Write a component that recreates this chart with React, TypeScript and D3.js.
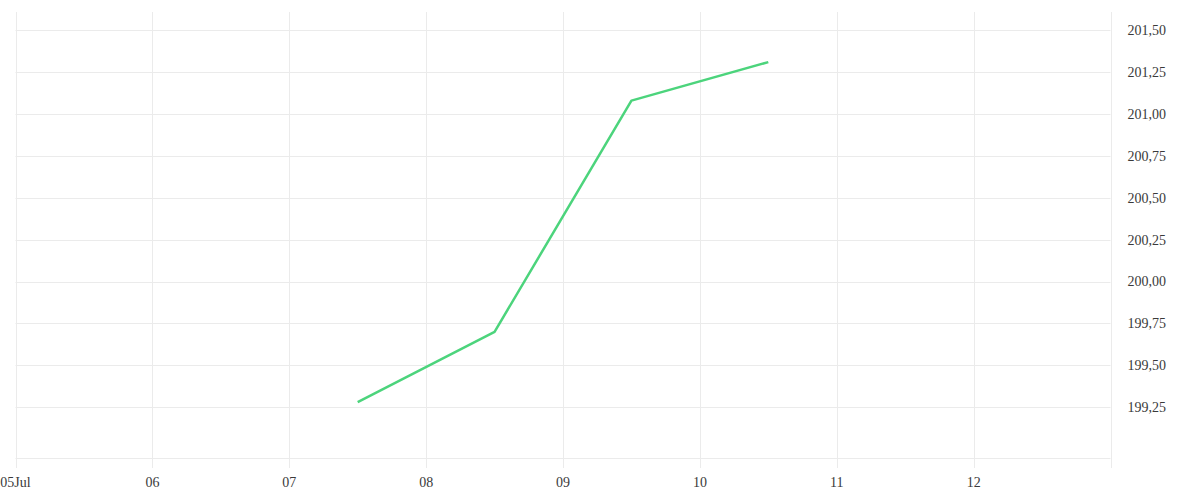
import { useEffect, useRef } from 'react';
import * as d3 from 'd3';

// one point per day, plotted at midday
const dates = ['2023-07-07T12:00Z', '2023-07-08T12:00Z', '2023-07-09T12:00Z', '2023-07-10T12:00Z'];
const prices = [199.28, 199.7, 201.08, 201.31];

const xDomain = ['2023-07-05T00:00Z', '2023-07-13T00:00Z'];
const yDomain = [198.947, 201.609];
const yTicks = [199.25, 199.5, 199.75, 200, 200.25, 200.5, 200.75, 201, 201.25, 201.5];

const App = (): JSX.Element => {
  const svgRef = useRef<SVGSVGElement>(null);

  useEffect(() => {
    if (svgRef.current) {
      svgRef.current.innerHTML = '';
    }
    const width = 1200;
    const height = 500;
    const marginTop = 12;
    const marginRight = 90;
    const marginBottom = 42;
    const marginLeft = 15.5;
    const font = '"Liberation Serif", serif';
    const gridColor = '#ebebeb';

    const x = d3.scaleUtc(
      xDomain.map((d) => new Date(d)) as [Date, Date],
      [marginLeft, width - marginRight + 0.5]
    );
    const y = d3.scaleLinear(yDomain, [height - marginBottom, marginTop]);

    const svg = d3
      .select(svgRef.current)
      .attr('width', width)
      .attr('height', height)
      .attr('viewBox', [0, 0, width, height]);

    const left = x.range()[0];
    const right = x.range()[1];
    const bottom = y.range()[0];

    // horizontal grid
    svg
      .append('g')
      .selectAll('line')
      .data(yTicks)
      .join('line')
      .attr('x1', left)
      .attr('x2', right)
      .attr('y1', (d) => Math.round(y(d)) + 0.5)
      .attr('y2', (d) => Math.round(y(d)) + 0.5)
      .attr('stroke', gridColor);

    // bottom edge of plot
    svg
      .append('line')
      .attr('x1', left)
      .attr('x2', right)
      .attr('y1', bottom + 0.5)
      .attr('y2', bottom + 0.5)
      .attr('stroke', gridColor);

    // vertical grid + ticks
    const days = d3.utcDay.range(x.domain()[0], x.domain()[1]);
    const fmtFirst = d3.utcFormat('%d%b');
    const fmtDay = d3.utcFormat('%d');
    const xg = svg.append('g');
    xg.selectAll('line')
      .data(days)
      .join('line')
      .attr('x1', (d) => Math.round(x(d)) + 0.5)
      .attr('x2', (d) => Math.round(x(d)) + 0.5)
      .attr('y1', marginTop)
      .attr('y2', bottom + 10)
      .attr('stroke', gridColor);
    xg.selectAll('text')
      .data(days)
      .join('text')
      .attr('x', (d) => x(d))
      .attr('y', bottom + 29)
      .attr('text-anchor', 'middle')
      .attr('font-family', font)
      .attr('font-size', 14)
      .attr('fill', '#3a3a3a')
      .text((d, i) => (i === 0 ? fmtFirst(d) : fmtDay(d)));

    // right axis line
    svg
      .append('line')
      .attr('x1', Math.round(right) + 0.5)
      .attr('x2', Math.round(right) + 0.5)
      .attr('y1', marginTop)
      .attr('y2', bottom + 10)
      .attr('stroke', gridColor);

    const fmtY = d3.formatLocale({ decimal: ',', thousands: '.', grouping: [3], currency: ['', ''] }).format('.2f');
    svg
      .append('g')
      .selectAll('text')
      .data(yTicks)
      .join('text')
      .attr('x', right + 17)
      .attr('y', (d) => y(d))
      .attr('dy', '0.35em')
      .attr('font-family', font)
      .attr('font-size', 14)
      .attr('fill', '#3a3a3a')
      .text((d) => fmtY(d));

    const points = dates.map((d, i) => [new Date(d), prices[i]] as [Date, number]);
    const line = d3
      .line<[Date, number]>()
      .x((d) => x(d[0]))
      .y((d) => y(d[1]));

    svg
      .append('path')
      .attr('fill', 'none')
      .attr('stroke', '#4cd47c')
      .attr('stroke-width', 2.5)
      .attr('stroke-linejoin', 'round')
      .attr('d', line(points));
  }, []);

  return (
    <div style={{ position: 'absolute', left: 0, top: 0 }}>
      <svg ref={svgRef} style={{ display: 'block' }} />
    </div>
  );
};

export default App;
